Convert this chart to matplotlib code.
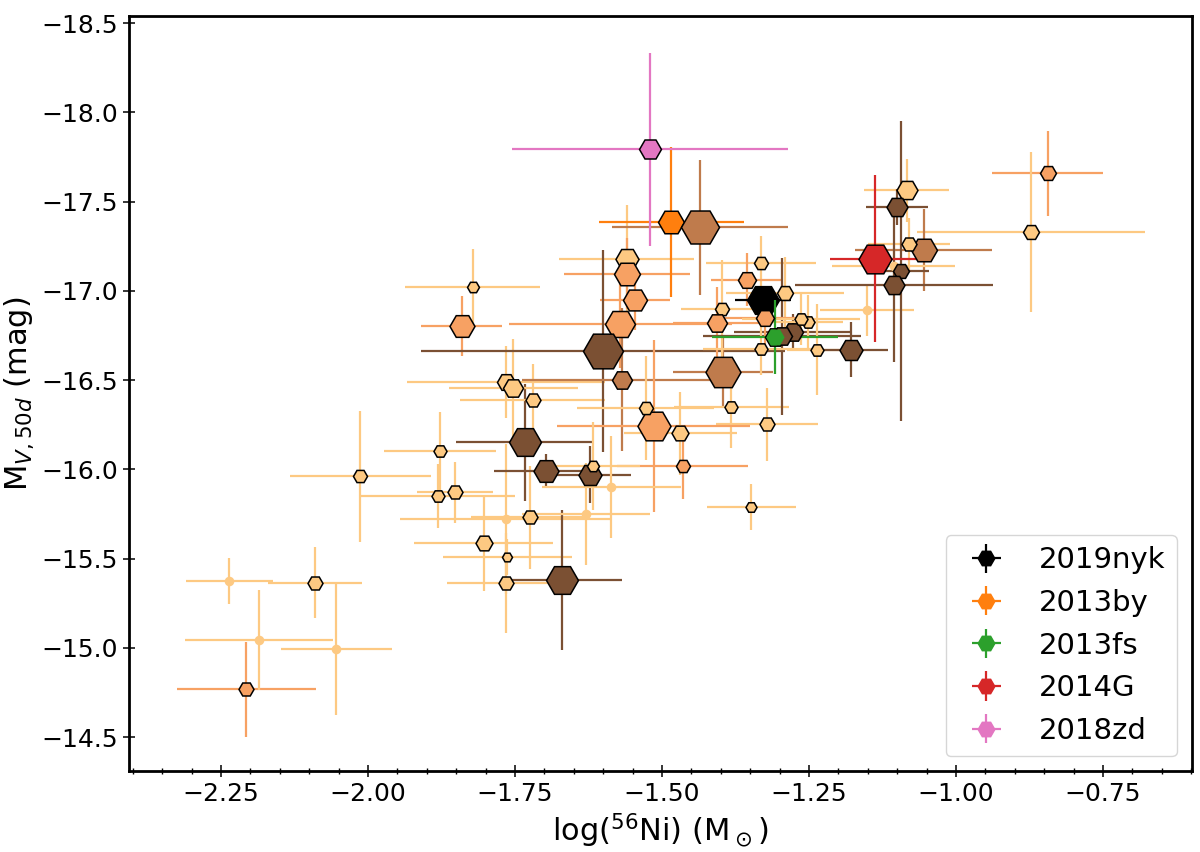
import numpy as np
import matplotlib
matplotlib.use('Agg')
import matplotlib.pyplot as plt
from matplotlib.ticker import MultipleLocator, AutoMinorLocator

# %% comparison sample: log(56Ni) vs M_V at 50 d
ni_log = [-2.207, -2.186, -2.236, -2.091, -2.054, -2.013, -1.878, -1.881, -1.852, -1.765,
          -1.803, -1.763, -1.765, -1.725, -1.733, -1.697, -1.670, -1.765, -1.753, -1.720,
          -1.822, -1.841, -1.560, -1.559, -1.546, -1.571, -1.600, -1.568, -1.396, -1.382,
          -1.322, -1.514, -1.528, -1.469, -1.465, -1.348, -1.622, -1.617, -1.586, -1.629,
          -1.332, -1.356, -1.291, -1.398, -1.406, -1.278, -1.296, -1.324, -1.252, -1.264,
          -1.152, -1.331, -1.237, -1.179,
          -0.844, -0.873, -1.084, -1.100, -1.055, -1.080, -1.106, -1.094, -1.105, -1.435]
ni_err = [0.118, 0.126, 0.074, 0.080, 0.094, 0.120, 0.095, 0.131, 0.065, 0.180,
          0.118, 0.110, 0.100, 0.100, 0.118, 0.089, 0.102, 0.168, 0.110, 0.123,
          0.115, 0.069, 0.115, 0.107, 0.060, 0.190, 0.310, 0.170, 0.085, 0.098,
          0.087, 0.164, 0.117, 0.096, 0.112, 0.076, 0.070, 0.080, 0.118, 0.109,
          0.094, 0.060, 0.100, 0.070, 0.076, 0.100, 0.134, 0.080, 0.060, 0.100,
          0.080, 0.100, 0.050, 0.064,
          0.094, 0.194, 0.073, 0.053, 0.116, 0.070, 0.105, 0.048, 0.168, 0.150]
mv50 = [-14.769, -15.042, -15.372, -15.365, -14.992, -15.960, -16.102, -15.852, -15.871, -15.720,
        -15.585, -15.510, -15.361, -15.731, -16.151, -15.990, -15.380, -16.490, -16.453, -16.391,
        -17.022, -16.802, -17.181, -17.097, -16.951, -16.817, -16.662, -16.503, -16.544, -16.350,
        -16.253, -16.242, -16.344, -16.201, -16.020, -15.790, -15.971, -16.020, -15.902, -15.749,
        -17.156, -17.063, -16.990, -16.901, -16.820, -16.768, -16.746, -16.847, -16.826, -16.845,
        -16.891, -16.677, -16.671, -16.671,
        -17.660, -17.328, -17.563, -17.470, -17.231, -17.261, -17.140, -17.111, -17.031, -17.356]
mv50_err = [0.266, 0.280, 0.129, 0.200, 0.370, 0.367, 0.220, 0.180, 0.170, 0.420,
            0.266, 0.100, 0.280, 0.290, 0.330, 0.095, 0.390, 0.200, 0.280, 0.200,
            0.210, 0.168, 0.300, 0.200, 0.170, 0.250, 0.565, 0.400, 0.200, 0.230,
            0.205, 0.480, 0.290, 0.230, 0.185, 0.129, 0.160, 0.245, 0.287, 0.287,
            0.150, 0.150, 0.200, 0.270, 0.200, 0.100, 0.440, 0.150, 0.150, 0.150,
            0.145, 0.150, 0.255, 0.156,
            0.238, 0.448, 0.177, 0.100, 0.230, 0.150, 0.100, 0.840, 0.430, 0.380]
group = ['S', 'D', 'D', 'P', 'D', 'P', 'P', 'P', 'P', 'D',
         'P', 'P', 'P', 'P', 'B', 'B', 'B', 'P', 'P', 'P',
         'P', 'S', 'P', 'S', 'S', 'S', 'B', 'M', 'M', 'P',
         'P', 'S', 'P', 'P', 'S', 'P', 'B', 'P', 'D', 'D',
         'P', 'S', 'P', 'P', 'S', 'B', 'B', 'S', 'P', 'P',
         'D', 'P', 'P', 'B',
         'S', 'P', 'P', 'B', 'M', 'P', 'D', 'B', 'B', 'M']
# marker sizes (pt) of the sample points
marker_ms = [10.8, 5.8, 5.8, 10.8, 5.8, 10.1, 9.4, 9.4, 10.8, 5.8,
             12.2, 7.2, 10.8, 10.8, 23.0, 18.0, 23.0, 13.0, 14.4, 10.8,
             8.6, 18.0, 16.6, 18.7, 17.3, 21.6, 28.8, 14.4, 25.2, 9.4,
             10.8, 23.8, 10.1, 12.2, 10.1, 7.9, 16.6, 8.6, 5.8, 5.8,
             10.1, 13.0, 11.5, 10.1, 14.4, 14.4, 14.4, 13.0, 9.4, 9.4,
             5.8, 9.4, 9.4, 16.6,
             11.5, 11.5, 15.1, 15.1, 18.7, 10.8, 5.8, 11.5, 15.1, 27.4]

# %% highlighted objects
sn_names = ['2019nyk', '2013by', '2013fs', '2014G', '2018zd']
sn_ni = [-1.328, -1.484, -1.308, -1.137, -1.520]
sn_ni_err = [0.047, 0.123, 0.107, 0.078, 0.235]
sn_mv = [-16.951, -17.386, -16.742, -17.181, -17.793]
sn_mv_err = [0.050, 0.420, 0.205, 0.469, 0.540]
sn_colors = ['black', 'tab:orange', 'tab:green', 'tab:red', 'tab:pink']
sn_ms = [23.0, 18.7, 14.4, 23.8, 15.8]

styles = {'P': ('#fdc982', 'H'),
          'S': ('#f7a163', 'H'),
          'B': ('#7b5033', 'H'),
          'M': ('#bf7b4c', 'H'),
          'D': ('#fdc982', 'o')}

# %% plot
fig = plt.figure(figsize=(12, 8.52), dpi=100)
ax = fig.add_axes([0.1078, 0.0951, 0.8853, 0.8861])

for i in range(len(ni_log)):
    c, m = styles[group[i]]
    ec = c if m == 'o' else 'black'
    ax.errorbar(ni_log[i], mv50[i], xerr=ni_err[i], yerr=mv50_err[i],
                fmt=m, color=c, ms=marker_ms[i], mec=ec, mew=1.1,
                elinewidth=1.6, capsize=0)

for i in range(len(sn_names)):
    ax.errorbar(sn_ni[i], sn_mv[i], xerr=sn_ni_err[i], yerr=sn_mv_err[i],
                fmt='H', color=sn_colors[i], ms=12, elinewidth=1.6,
                capsize=0, label=sn_names[i])
    ax.plot(sn_ni[i], sn_mv[i], 'H', ms=sn_ms[i], mfc=sn_colors[i],
            mec='black', mew=1.1)

ax.set_xlim(-2.406, -0.599)
ax.set_ylim(-14.31, -18.54)
ax.xaxis.set_major_locator(MultipleLocator(0.25))
ax.xaxis.set_minor_locator(AutoMinorLocator(5))
ax.yaxis.set_major_locator(MultipleLocator(0.5))

ax.tick_params(axis='both', which='major', direction='inout', length=9,
               width=1.1, labelsize=18)
ax.tick_params(axis='x', which='minor', direction='inout', length=4, width=1.0)
for s in ax.spines.values():
    s.set_linewidth(2.0)

ax.set_xlabel(r'log($^{56}$Ni) (M$_\odot$)', fontsize=22)
ax.set_ylabel(r'M$_{V,50d}$ (mag)', fontsize=22)
ax.legend(loc='lower right', fontsize=21)

fig.savefig('out.png')
